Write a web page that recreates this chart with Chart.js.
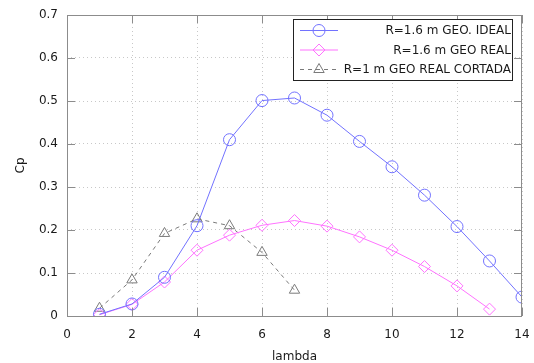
<!DOCTYPE html>
<html>
<head>
<meta charset="utf-8">
<script src="https://cdn.jsdelivr.net/npm/chart.js@4.4.1/dist/chart.umd.min.js"></script>
<style>
  html, body { margin: 0; padding: 0; background: #fff; }
</style>
</head>
<body>
<canvas id="cpChart" width="534" height="363"></canvas>
<script>
// Cp vs lambda curves
const lambdaIdeal = [1, 2, 3, 4, 5, 6, 7, 8, 9, 10, 11, 12, 13, 14];
const cpIdeal = [0.004, 0.028, 0.09, 0.21, 0.41, 0.501, 0.507, 0.467, 0.406, 0.347, 0.281, 0.208, 0.128, 0.044];

const lambdaReal = [1, 2, 3, 4, 5, 6, 7, 8, 9, 10, 11, 12, 13];
const cpReal = [0.003, 0.027, 0.079, 0.153, 0.188, 0.211, 0.222, 0.209, 0.184, 0.153, 0.115, 0.07, 0.016];

const lambdaCut = [1, 2, 3, 4, 5, 6, 7];
const cpCut = [0.018, 0.084, 0.192, 0.226, 0.21, 0.148, 0.06];

const seriesLabels = ['R=1.6 m GEO. IDEAL', 'R=1.6 m GEO REAL', 'R=1 m GEO REAL CORTADA'];
const xTicks = [0, 2, 4, 6, 8, 10, 12, 14];
const yTicks = [0, 0.1, 0.2, 0.3, 0.4, 0.5, 0.6, 0.7];

const FONT = 'DejaVu Sans';
const toPoints = (xs, ys) => xs.map((x, i) => ({ x: x, y: ys[i] }));

const styles = [
    { color: '#7272ff', point: 'circle', dash: [] },
    { color: '#ff72ff', point: 'rectRot', dash: [] },
    { color: '#7a7a7a', point: 'triangle', dash: [4, 4] }
];

// gnuplot-style frame with inward ticks on all four sides, plus an opaque key box
const framePlugin = {
    id: 'frame',
    afterDatasetsDraw(chart) {
        const { ctx, chartArea: a, scales } = chart;
        const tl = 8;
        ctx.save();
        ctx.strokeStyle = '#8c8c8c';
        ctx.lineWidth = 1;
        ctx.strokeRect(a.left + 0.5, a.top + 0.5, a.right - a.left - 1, a.bottom - a.top);
        ctx.beginPath();
        xTicks.forEach(v => {
            const px = Math.round(scales.x.getPixelForValue(v)) + 0.5;
            ctx.moveTo(px, a.bottom); ctx.lineTo(px, a.bottom - tl);
            ctx.moveTo(px, a.top); ctx.lineTo(px, a.top + tl);
        });
        yTicks.forEach(v => {
            const py = Math.round(scales.y.getPixelForValue(v)) + 0.5;
            ctx.moveTo(a.left, py); ctx.lineTo(a.left + tl, py);
            ctx.moveTo(a.right, py); ctx.lineTo(a.right - tl, py);
        });
        ctx.stroke();

        // key
        const box = { l: 293.5, t: 19.5, r: 512.5, b: 80.5 };
        ctx.fillStyle = '#fff';
        ctx.fillRect(box.l, box.t, box.r - box.l, box.b - box.t);
        ctx.strokeStyle = '#222';
        ctx.strokeRect(box.l, box.t, box.r - box.l, box.b - box.t);
        const rows = [30, 49.5, 69];
        ctx.font = '12px "' + FONT + '"';
        ctx.textAlign = 'right';
        ctx.textBaseline = 'middle';
        seriesLabels.forEach((label, i) => {
            const s = styles[i];
            const y = rows[i] + 0.5;
            ctx.strokeStyle = s.color;
            ctx.setLineDash(s.dash);
            ctx.beginPath();
            ctx.moveTo(300, y); ctx.lineTo(338, y);
            ctx.stroke();
            ctx.setLineDash([]);
            ctx.fillStyle = 'rgba(0,0,0,0)';
            Chart.helpers.drawPoint(ctx, { pointStyle: s.point, radius: 6, borderWidth: 1 }, 319, y);
            ctx.fillStyle = '#1a1a1a';
            ctx.fillText(label, 511, rows[i] + 1);
        });
        ctx.restore();
    }
};

const datasets = [
    toPoints(lambdaIdeal, cpIdeal),
    toPoints(lambdaReal, cpReal),
    toPoints(lambdaCut, cpCut)
].map((pts, i) => ({
    label: seriesLabels[i],
    data: pts,
    borderColor: styles[i].color,
    backgroundColor: 'rgba(0,0,0,0)',
    borderWidth: 1,
    borderDash: styles[i].dash,
    pointStyle: styles[i].point,
    pointRadius: 6,
    pointBorderWidth: 1,
    pointBorderColor: styles[i].color,
    pointBackgroundColor: 'rgba(0,0,0,0)',
    tension: 0,
    fill: false
}));

const axisTitle = (text, pad) => ({
    display: true,
    text: text,
    color: '#1a1a1a',
    font: { family: FONT, size: 12 },
    padding: pad
});

new Chart(document.getElementById('cpChart'), {
    type: 'scatter',
    data: { datasets: datasets },
    options: {
        responsive: false,
        animation: false,
        devicePixelRatio: 1,
        showLine: true,
        layout: { padding: { top: 15, right: 12, left: 0, bottom: 0 } },
        plugins: { legend: { display: false }, tooltip: { enabled: false } },
        scales: {
            x: {
                type: 'linear',
                min: 0,
                max: 14,
                afterBuildTicks: s => { s.ticks = xTicks.map(v => ({ value: v })); },
                afterFit: s => { s.height = 47; s.paddingLeft = 0; s.paddingRight = 0; },
                ticks: { color: '#1a1a1a', font: { family: FONT, size: 12 }, padding: 12, maxRotation: 0 },
                grid: { color: '#c8c8c8', drawTicks: false },
                border: { display: false, dash: [1, 3] },
                title: axisTitle('lambda', { top: 0, bottom: -1 })
            },
            y: {
                type: 'linear',
                min: 0,
                max: 0.7,
                afterBuildTicks: s => { s.ticks = yTicks.map(v => ({ value: v })); },
                afterFit: s => { s.width = 67; s.paddingTop = 0; s.paddingBottom = 0; },
                ticks: { color: '#1a1a1a', font: { family: FONT, size: 12 }, padding: 9 },
                grid: { color: '#c8c8c8', drawTicks: false },
                border: { display: false, dash: [1, 3] },
                title: axisTitle('Cp', { top: 14, bottom: 0 })
            }
        }
    },
    plugins: [framePlugin]
});
</script>
</body>
</html>
